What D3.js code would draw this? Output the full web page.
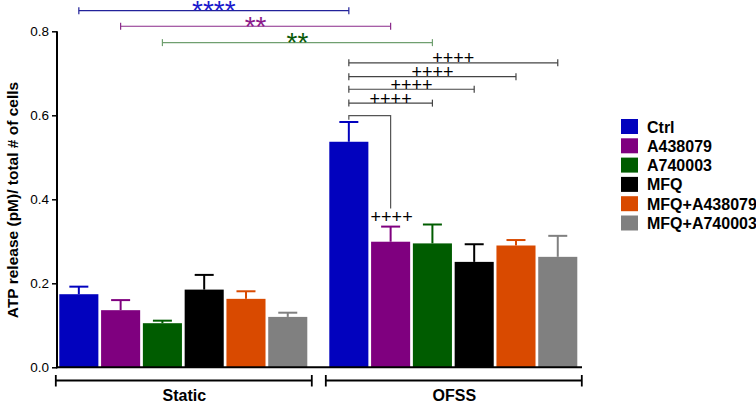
<!DOCTYPE html>
<html lang="en">
<head>
    <meta charset="UTF-8">
    <title>ATP release</title>
    <script src="https://d3js.org/d3.v7.min.js"></script>
    <style>
        body { margin: 0; background: #fff; }
        text { font-family: "Liberation Sans", Arial, sans-serif; }
    </style>
</head>
<body>
<svg width="756" height="401"></svg>

<script>
    // data
    const groups = ["Static", "OFSS"];
    const treatments = ["Ctrl", "A438079", "A740003", "MFQ", "MFQ+A438079", "MFQ+A740003"];
    const colors = ["#0202be", "#7f007f", "#005c00", "#000000", "#d94a00", "#808080"];
    const staticMean = [0.174, 0.136, 0.105, 0.185, 0.163, 0.120];
    const staticErr  = [0.192, 0.160, 0.111, 0.220, 0.181, 0.130];
    const ofssMean   = [0.537, 0.299, 0.295, 0.251, 0.290, 0.263];
    const ofssErr    = [0.584, 0.335, 0.340, 0.293, 0.303, 0.313];
    const yTicks = [0.0, 0.2, 0.4, 0.6, 0.8];

    // Static vs OFSS comparisons (same treatment)
    const starTreat  = ["Ctrl", "A438079", "A740003"];
    const starLabels = ["****", "**", "**"];
    const starLevels = [0.849, 0.812, 0.773];
    const starLine   = ["#22229a", "#8a2a8a", "#6f9f6f"];
    const starText   = ["#1a1acc", "#8b1a8b", "#0a5a0a"];

    // OFSS Ctrl vs others
    const plusTo     = ["MFQ+A740003", "MFQ+A438079", "MFQ", "A740003"];
    const plusLevels = [0.725, 0.692, 0.662, 0.629];
    const bracketLevel = 0.599;

    let svg = d3.select("svg");

    let y = d3.scaleLinear().domain([0, 0.8]).range([367.3, 31.3]);
    let x0 = d3.scaleBand().domain(groups).range([59.3, 577.3]).paddingInner(0.0815);
    let x1 = d3.scaleBand().domain(treatments).range([0, x0.bandwidth()]).paddingInner(0.065);
    let color = d3.scaleOrdinal().domain(treatments).range(colors);
    let cx = (g, t) => x0(g) + x1(t) + x1.bandwidth() / 2;

    let rows = [];
    treatments.forEach(function (t, i) {
        rows.push({group: "Static", t: t, v: staticMean[i], e: staticErr[i]});
        rows.push({group: "OFSS", t: t, v: ofssMean[i], e: ofssErr[i]});
    });

    // error bars (drawn first, bar covers the lower part)
    let eb = svg.append("g").selectAll("g").data(rows).enter().append("g")
        .attr("stroke", d => color(d.t)).attr("stroke-width", 2);
    eb.append("line")
        .attr("x1", d => cx(d.group, d.t)).attr("x2", d => cx(d.group, d.t))
        .attr("y1", d => y(d.v)).attr("y2", d => y(d.e));
    eb.append("line")
        .attr("x1", d => cx(d.group, d.t) - 9.5).attr("x2", d => cx(d.group, d.t) + 9.5)
        .attr("y1", d => y(d.e)).attr("y2", d => y(d.e));

    // bars
    svg.append("g").selectAll("rect").data(rows).enter().append("rect")
        .attr("x", d => x0(d.group) + x1(d.t))
        .attr("width", x1.bandwidth())
        .attr("y", d => y(d.v))
        .attr("height", d => y(0) - y(d.v))
        .attr("fill", d => color(d.t));

    // y axis
    let yAxis = svg.append("g").attr("transform", "translate(57,0)")
        .call(d3.axisLeft(y).tickValues(yTicks).tickFormat(d3.format(".1f")).tickSize(5).tickPadding(3));
    yAxis.select(".domain").attr("stroke-width", 2).attr("d", "M0," + y(0.8) + "V" + (y(0) + 1));
    yAxis.selectAll(".tick line").attr("stroke-width", 1.5);
    yAxis.selectAll(".tick text").attr("font-size", 13.5).attr("font-family", "Liberation Sans, Arial, sans-serif");

    // x baseline
    svg.append("line").attr("x1", 56).attr("x2", 582).attr("y1", y(0)).attr("y2", y(0))
        .attr("stroke", "#000").attr("stroke-width", 2);

    // group brackets
    let gb = svg.append("g").selectAll("g").data(groups).enter().append("g")
        .attr("stroke", "#000").attr("stroke-width", 1.8);
    gb.append("line").attr("x1", d => x0(d) - 3.5).attr("x2", d => x0(d) + x0.bandwidth() + 4.5)
        .attr("y1", 380.5).attr("y2", 380.5);
    gb.append("line").attr("x1", d => x0(d) - 3.5).attr("x2", d => x0(d) - 3.5).attr("y1", 375).attr("y2", 386.5);
    gb.append("line").attr("x1", d => x0(d) + x0.bandwidth() + 4.5).attr("x2", d => x0(d) + x0.bandwidth() + 4.5)
        .attr("y1", 375).attr("y2", 386.5);
    svg.append("g").selectAll("text").data(groups).enter().append("text")
        .attr("x", d => x0(d) + x0.bandwidth() / 2 + 1).attr("y", 401)
        .attr("text-anchor", "middle").attr("font-size", 16).attr("font-weight", "bold")
        .text(d => d);

    // y label
    svg.append("text").attr("transform", "translate(18,200) rotate(-90)")
        .attr("text-anchor", "middle").attr("font-size", 15.5).attr("font-weight", "bold")
        .text("ATP release (pM)/ total # of cells");

    // helper for significance lines with end ticks
    function sigLine(xa, xb, yy, col) {
        let g = svg.append("g").attr("stroke", col).attr("stroke-width", 1.2);
        g.append("line").attr("x1", xa).attr("x2", xb).attr("y1", yy).attr("y2", yy);
        g.append("line").attr("x1", xa).attr("x2", xa).attr("y1", yy - 3.5).attr("y2", yy + 3.5);
        g.append("line").attr("x1", xb).attr("x2", xb).attr("y1", yy - 3.5).attr("y2", yy + 3.5);
    }

    starTreat.forEach(function (t, i) {
        let xa = cx("Static", t), xb = cx("OFSS", t), yy = y(starLevels[i]);
        sigLine(xa, xb, yy, starLine[i]);
        svg.append("text").attr("x", (xa + xb) / 2).attr("y", yy + 9.5)
            .attr("text-anchor", "middle").attr("font-size", 28)
            .attr("fill", starText[i]).text(starLabels[i]);
    });

    plusTo.forEach(function (t, i) {
        let xa = cx("OFSS", "Ctrl"), xb = cx("OFSS", t), yy = y(plusLevels[i]);
        sigLine(xa, xb, yy, "#444");
        svg.append("text").attr("x", (xa + xb) / 2).attr("y", yy + 1.5)
            .attr("text-anchor", "middle").attr("font-size", 18)
            .attr("fill", "#000").text("++++");
    });

    // bracket OFSS Ctrl -> A438079
    let bx0 = cx("OFSS", "Ctrl"), bx1 = cx("OFSS", "A438079"), by = y(bracketLevel);
    svg.append("path")
        .attr("d", "M" + bx0 + "," + (by + 4) + "V" + by + "H" + bx1 + "V" + (y(ofssErr[1]) - 18))
        .attr("fill", "none").attr("stroke", "#555").attr("stroke-width", 1.2);
    svg.append("text").attr("x", bx1 + 1).attr("y", y(ofssErr[1]) - 3.5)
        .attr("text-anchor", "middle").attr("font-size", 18).text("++++");

    // legend
    let leg = svg.append("g").selectAll("g").data(treatments).enter().append("g")
        .attr("transform", (d, i) => "translate(621," + (119 + i * 19.3) + ")");
    leg.append("rect").attr("width", 17).attr("height", 15).attr("fill", d => color(d));
    leg.append("text").attr("x", 26).attr("y", 13.5).attr("font-size", 16).attr("font-weight", "bold")
        .text(d => d);
</script>
</body>
</html>
